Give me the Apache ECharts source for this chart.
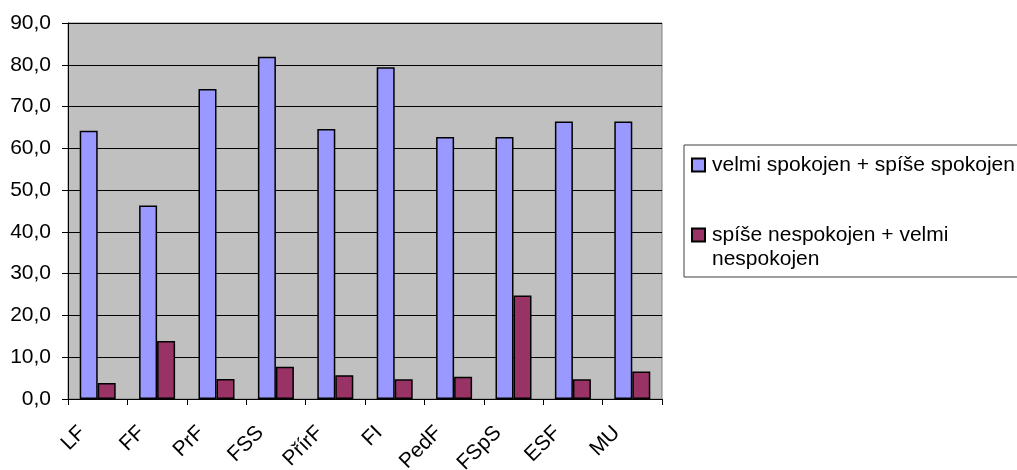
<!DOCTYPE html>
<html>
<head>
<meta charset="utf-8">
<script src="https://cdn.jsdelivr.net/npm/echarts@6/dist/echarts.min.js"></script>
<style>
html,body{margin:0;padding:0;background:#fff;}
#chart{width:1017px;height:470px;}
</style>
</head>
<body>
<div id="chart"></div>
<script>
const categories = ['LF', 'FF', 'PrF', 'FSS', 'PřírF', 'FI', 'PedF', 'FSpS', 'ESF', 'MU'];
const seriesNames = ['velmi spokojen + spíše spokojen', 'spíše nespokojen + velmi\nnespokojen'];
const satisfied = [64.2, 46.3, 74.2, 81.9, 64.6, 79.4, 62.7, 62.7, 66.4, 66.4];
const dissatisfied = [3.8, 13.9, 4.8, 7.7, 5.7, 4.7, 5.3, 24.8, 4.7, 6.6];

const FONT = '"Liberation Sans", Arial, sans-serif';
const chart = echarts.init(document.getElementById('chart'));
chart.setOption({
  backgroundColor: '#ffffff',
  animation: false,
  textStyle: { fontFamily: FONT, color: '#000' },
  grid: {
    left: 68, top: 23, width: 594, height: 376,
    outerBoundsMode: 'none', containLabel: false,
    show: true, backgroundColor: '#C0C0C0', borderColor: '#808080', borderWidth: 1
  },
  legend: {
    orient: 'vertical',
    left: 684, top: 145,
    padding: [8, 60, 6, 7],
    itemWidth: 13, itemHeight: 13,
    itemGap: 22,
    icon: 'rect',
    borderColor: '#404040', borderWidth: 1,
    formatter: name => (name === seriesNames[1] ? '\u00a0\n' + name : name),
    textStyle: { fontFamily: FONT, fontSize: 21, color: '#000', lineHeight: 24, padding: [0, 0, 0, 2] },
    data: [seriesNames[0], seriesNames[1]]
  },
  xAxis: {
    type: 'category',
    data: categories,
    axisLine: { lineStyle: { color: '#000', width: 1 } },
    axisTick: { show: true, length: 6, lineStyle: { color: '#000' } },
    axisLabel: { rotate: 45, fontSize: 21, color: '#000', fontFamily: FONT, margin: 15, padding: [0, 22, 0, 0], interval: 0 }
  },
  yAxis: {
    type: 'value',
    min: 0, max: 90, interval: 10,
    axisLine: { show: true, lineStyle: { color: '#000', width: 1 } },
    axisTick: { show: true, length: 6, lineStyle: { color: '#000' } },
    splitLine: { lineStyle: { color: '#000', width: 1 } },
    axisLabel: { fontSize: 21, color: '#000', fontFamily: FONT, margin: 17,
      formatter: v => v.toFixed(1).replace('.', ',') }
  },
  series: [
    { name: seriesNames[0], type: 'bar', data: satisfied, barWidth: 18, barGap: '0%',
      itemStyle: { color: '#9999FF', borderColor: '#000', borderWidth: 1.5 } },
    { name: seriesNames[1], type: 'bar', data: dissatisfied, barWidth: 18,
      itemStyle: { color: '#993366', borderColor: '#000', borderWidth: 1.5 } }
  ]
});
</script>
</body>
</html>
